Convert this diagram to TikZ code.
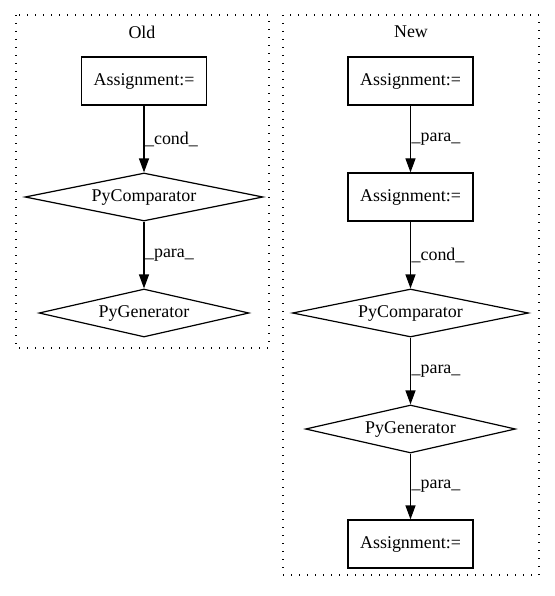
\documentclass[tikz,border=0pt]{standalone}
\usepackage{fontspec}
\setmainfont{Liberation Serif}
\usetikzlibrary{shapes.geometric,arrows.meta}
\begin{document}
\begin{tikzpicture}[x=1bp,y=-1bp,
  every node/.style={font=\fontsize{18}{20}\selectfont},
  box/.style={draw,line width=1.2bp,rectangle,minimum width=125bp,minimum height=48bp,inner sep=0},
  dia/.style={draw,line width=1.2bp,diamond,shape aspect=5,inner sep=0},
  clus/.style={line width=1.1bp,dash pattern=on 1.3bp off 6.7bp},
  edge/.style={line width=1.2bp,-{Triangle[length=14bp,width=10bp]}},
  lab/.style={anchor=west,inner sep=0.5bp}]
\useasboundingbox (0,0) rectangle (555,596);
% clusters
\draw[clus] (16,15) rectangle (269,348);
\node (told) at (142,32) {Old};
\draw[clus] (283,15) rectangle (539,575);
\node (tnew) at (411,32) {New};
% Old
\node[box] (oa) at (144,81) {Assignment:=};
\node[dia,minimum width=238bp,minimum height=48bp] (oc) at (144,197) {PyComparator};
\node[dia,minimum width=210bp,minimum height=48bp] (og) at (144,313) {PyGenerator};
\draw[edge] (oa) -- node[lab] {\_cond\_} (oc);
\draw[edge] (oc) -- node[lab] {\_para\_} (og);
% New
\node[box] (na1) at (410.5,81) {Assignment:=};
\node[box] (na2) at (410.5,197) {Assignment:=};
\node[dia,minimum width=236bp,minimum height=48bp] (nc) at (410.5,313) {PyComparator};
\node[dia,minimum width=210bp,minimum height=48bp] (ng) at (410.5,429) {PyGenerator};
\node[box] (na3) at (410.5,544) {Assignment:=};
\draw[edge] (na1) -- node[lab] {\_para\_} (na2);
\draw[edge] (na2) -- node[lab] {\_cond\_} (nc);
\draw[edge] (nc) -- node[lab] {\_para\_} (ng);
\draw[edge] (ng) -- node[lab] {\_para\_} (na3);
\end{tikzpicture}
\end{document}
